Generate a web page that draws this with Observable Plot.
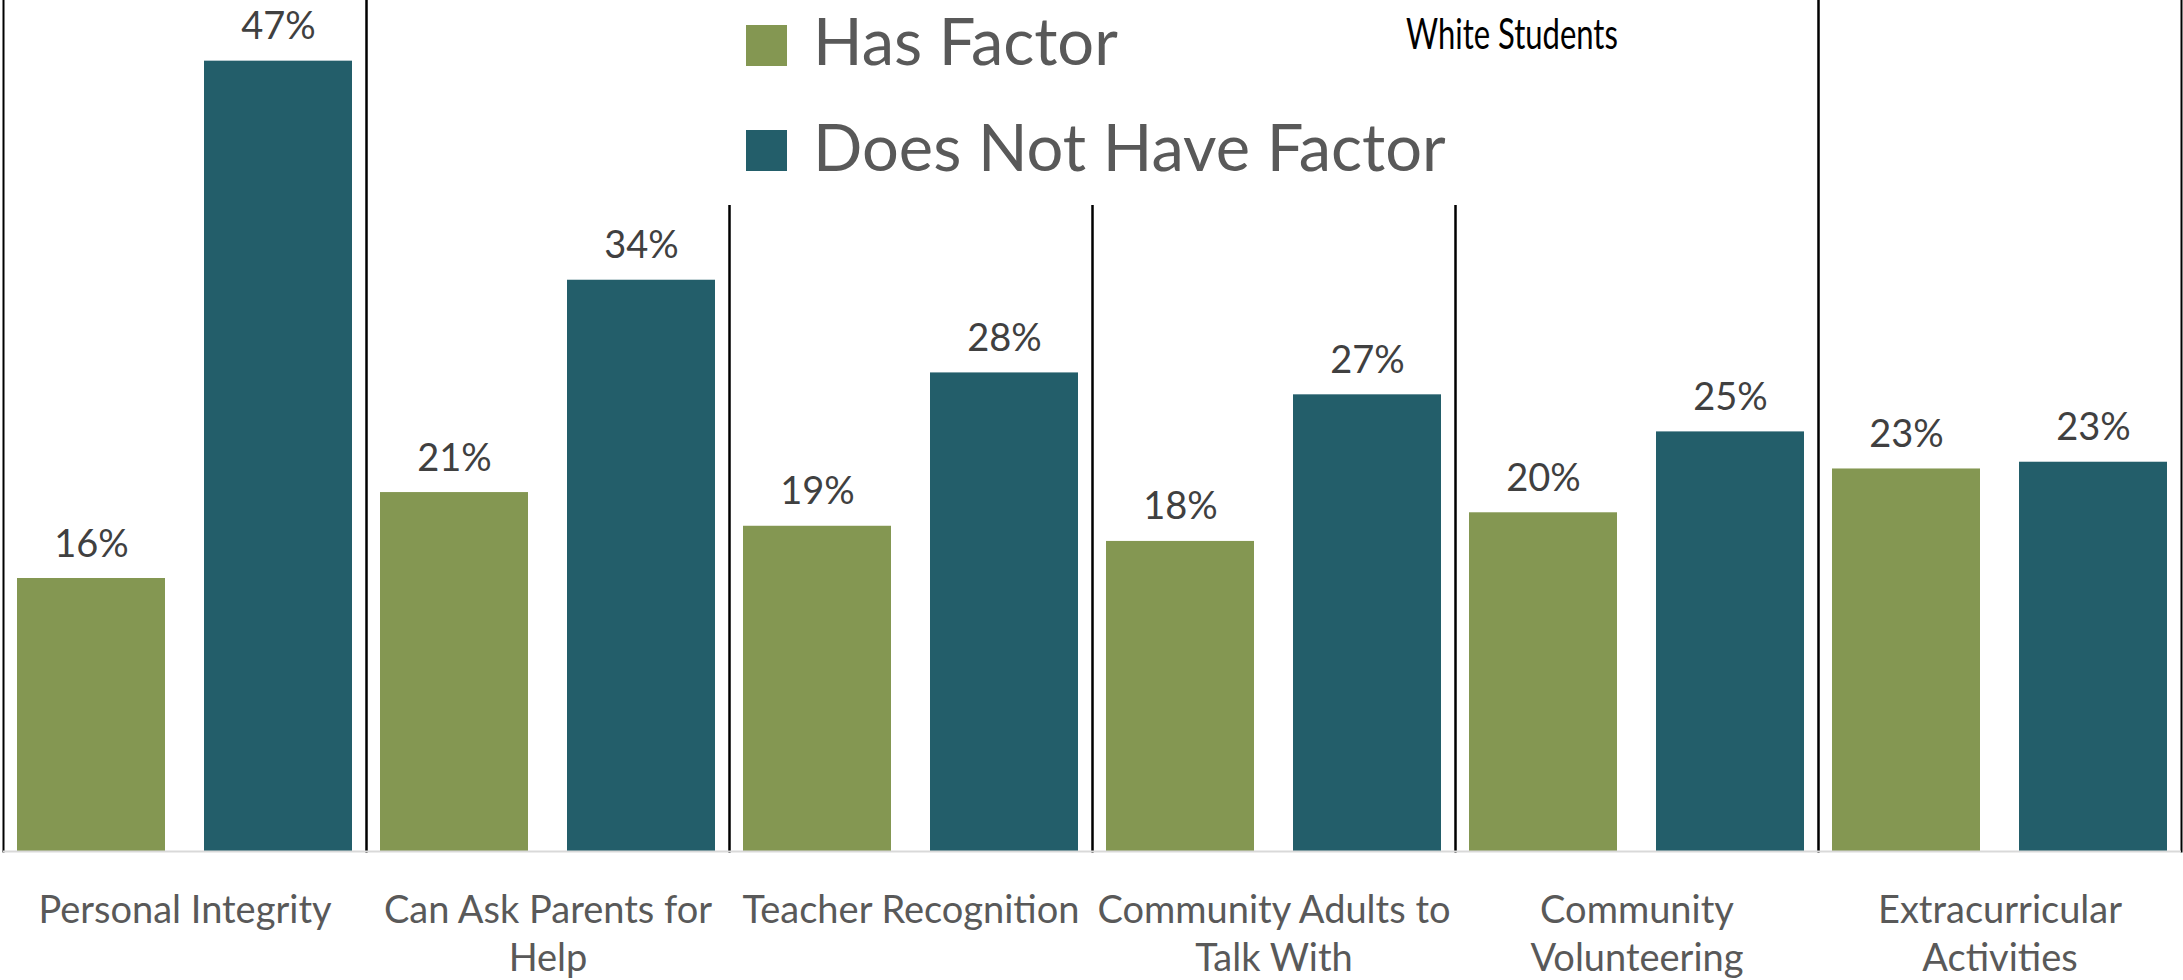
<!DOCTYPE html>
<html>
<head>
<meta charset="utf-8">
<script src="https://cdn.jsdelivr.net/npm/d3@7"></script>
<script src="https://cdn.jsdelivr.net/npm/@observablehq/plot@0.6"></script>
<style>
  html, body { margin: 0; padding: 0; background: #fff; }
  #wrap { position: relative; width: 2183px; height: 980px; overflow: hidden; font-family: Lato, "Open Sans", sans-serif; }
  #legend { position: absolute; left: 722px; top: 0; width: 748px; height: 205px; background: #fff; }
  .sw { position: absolute; left: 24px; width: 41px; height: 41px; }
  .lt { position: absolute; left: 91px; font-size: 65px; line-height: 1; font-weight: 400; color: #595959; white-space: nowrap; }
  #title { position: absolute; left: 1406px; top: 22px; font-size: 31px; line-height: 1; color: #000; white-space: nowrap;
           transform: scaleY(1.4); transform-origin: 0 27.5px; }
</style>
</head>
<body>
<div id="wrap"></div>
<script>
const categories = ["Personal Integrity", "Can Ask Parents for Help", "Teacher Recognition", "Community Adults to Talk With", "Community Volunteering", "Extracurricular Activities"];
const tickLabels = ["Personal Integrity", "Can Ask Parents for\nHelp", "Teacher Recognition", "Community Adults to\nTalk With", "Community\nVolunteering", "Extracurricular\nActivities"];
const series = ["Has Factor", "Does Not Have Factor"];
const hasFactor = [16.2, 21.3, 19.3, 18.4, 20.1, 22.7];
const doesNotHaveFactor = [46.9, 33.9, 28.4, 27.1, 24.9, 23.1];
const colors = ["#849752", "#235e6a"];
const title = "White Students";

const rows = [];
categories.forEach((c, i) => {
  rows.push({category: c, series: series[0], value: hasFactor[i]});
  rows.push({category: c, series: series[1], value: doesNotHaveFactor[i]});
});

const chart = Plot.plot({
  width: 2183,
  height: 980,
  marginTop: 0,
  marginBottom: 129,
  marginLeft: 2,
  marginRight: 2,
  style: {fontFamily: "Lato, 'Open Sans', sans-serif", background: "#fff"},
  fx: {domain: categories, padding: 0, label: null},
  x: {domain: series, paddingInner: 0.21, paddingOuter: 0.075, axis: null},
  y: {domain: [0, 50.5], axis: null},
  color: {domain: series, range: colors},
  marks: [
    Plot.frame({anchor: "left", stroke: "#000", strokeWidth: 2}),
    Plot.frame({anchor: "right", stroke: "#000", strokeWidth: 2}),
    Plot.barY(rows, {fx: "category", x: "series", y: "value", fill: "series"}),
    Plot.ruleY([0], {stroke: "#d9d9d9", strokeWidth: 2}),
    Plot.text(rows, {fx: "category", x: "series", y: "value", text: d => Math.round(d.value) + "%",
      lineAnchor: "bottom", dy: -22, fontSize: 38, fill: "#404040"}),
    Plot.axisFx({anchor: "bottom", tickSize: 0, tickPadding: 38, fontSize: 38, lineHeight: 1.25,
      color: "#595959", label: null, tickFormat: d => tickLabels[categories.indexOf(d)]})
  ]
});

const wrap = document.getElementById("wrap");
wrap.appendChild(chart);

const legend = document.createElement("div");
legend.id = "legend";
series.forEach((s, i) => {
  const sw = document.createElement("div");
  sw.className = "sw";
  sw.style.background = colors[i];
  sw.style.top = (25 + i * 105) + "px";
  legend.appendChild(sw);
  const t = document.createElement("div");
  t.className = "lt";
  t.textContent = s;
  t.style.top = (8 + i * 106) + "px";
  legend.appendChild(t);
});
wrap.appendChild(legend);

const tt = document.createElement("div");
tt.id = "title";
tt.textContent = title;
wrap.appendChild(tt);
</script>
</body>
</html>
